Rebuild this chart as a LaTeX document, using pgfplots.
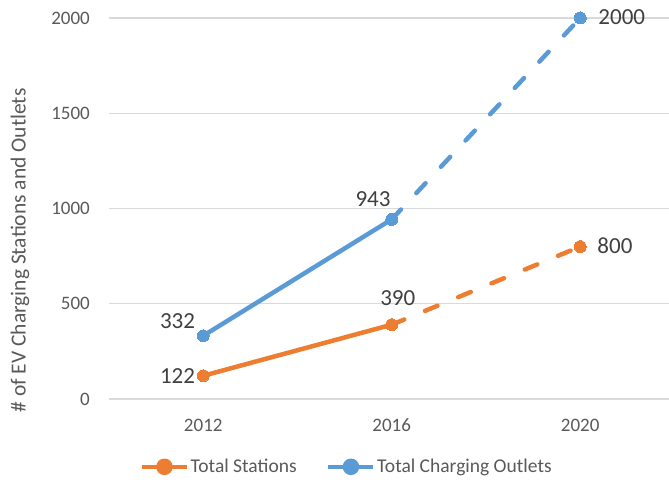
\documentclass[border=0pt]{standalone}
\usepackage{pgfplots}
\pgfplotsset{compat=1.18}
\usepackage{fontspec}
\setmainfont{Carlito}
\definecolor{orng}{HTML}{ED7D31}
\definecolor{blu}{HTML}{5B9BD5}
\definecolor{gridc}{HTML}{D9D9D9}
\definecolor{tickc}{HTML}{595959}
\definecolor{lblc}{HTML}{404040}
\tikzset{dlab/.style={font=\fontsize{23}{25}\selectfont, text=lblc, inner sep=0pt}}
\begin{document}
\begin{tikzpicture}[x=1pt,y=1pt]
\path[use as bounding box] (0,0) rectangle (669,487);
\begin{axis}[
  at={(109pt,88pt)}, anchor=south west,
  scale only axis, width=560pt, height=381pt,
  xmin=-0.5, xmax=2.471, ymin=0, ymax=2000,
  axis line style={draw=none}, major tick length=0pt,
  ytick={0,500,1000,1500,2000}, ymajorgrids,
  grid style={gridc, line width=1.2pt},
  xtick={0,1,2}, xticklabels={2012,2016,2020},
  ticklabel style={font=\fontsize{19}{21}\selectfont, text=tickc},
  /pgf/number format/assume math mode=true, /pgf/number format/1000 sep={},
  yticklabel style={anchor=east, inner sep=0pt, xshift=-19pt},
  xticklabel style={anchor=center, inner sep=0pt, yshift=-26pt},
  ylabel={\# of EV Charging Stations and Outlets},
  ylabel style={at={(axis description cs:-0.159,0.39)}, anchor=center, font=\fontsize{21.5}{23}\selectfont, text=tickc},
  clip=false,
  legend style={at={(axis description cs:0.424,-0.178)}, anchor=center, draw=none, fill=none,
    legend columns=2, font=\fontsize{19.5}{21}\selectfont, text=tickc,
    /tikz/every even column/.append style={column sep=28pt}, inner sep=0pt, nodes={inner sep=1.5pt}},
  legend image code/.code={\draw[#1, mark=none, solid, line width=4.5pt] (0pt,0pt) -- (45pt,0pt); \fill[#1, solid] (22.5pt,0pt) circle[radius=6pt];},
]
\addplot[orng, line width=4.5pt, mark=*, mark size=6pt, mark options={solid, line width=0pt}] coordinates {(0,122) (1,390)};
\addlegendentry{Total Stations}
\addplot[blu, line width=4.5pt, mark=*, mark size=6pt, mark options={solid, line width=0pt}] coordinates {(0,332) (1,943)};
\addlegendentry{Total Charging Outlets}
\addplot[orng, line width=4.5pt, line cap=round, dash pattern=on 13.5pt off 22.5pt, mark=*, mark size=6pt, mark options={solid, line width=0pt}, forget plot] coordinates {(1,390) (2,800)};
\addplot[blu, line width=4.5pt, line cap=round, dash pattern=on 13.5pt off 22.5pt, mark=*, mark size=6pt, mark options={solid, line width=0pt}, forget plot] coordinates {(1,943) (2,2000)};
\node[dlab, anchor=east, xshift=-8pt] at (axis cs:0,122) {122};
\node[dlab, anchor=east, xshift=-8pt, yshift=15pt] at (axis cs:0,332) {332};
\node[dlab, anchor=east, xshift=-1pt, yshift=20pt] at (axis cs:1,943) {943};
\node[dlab, anchor=center, xshift=6pt, yshift=27pt] at (axis cs:1,390) {390};
\node[dlab, anchor=west, xshift=18pt, yshift=1pt] at (axis cs:2,2000) {2000};
\node[dlab, anchor=west, xshift=17pt, yshift=1pt] at (axis cs:2,800) {800};
\end{axis}
\end{tikzpicture}
\end{document}
